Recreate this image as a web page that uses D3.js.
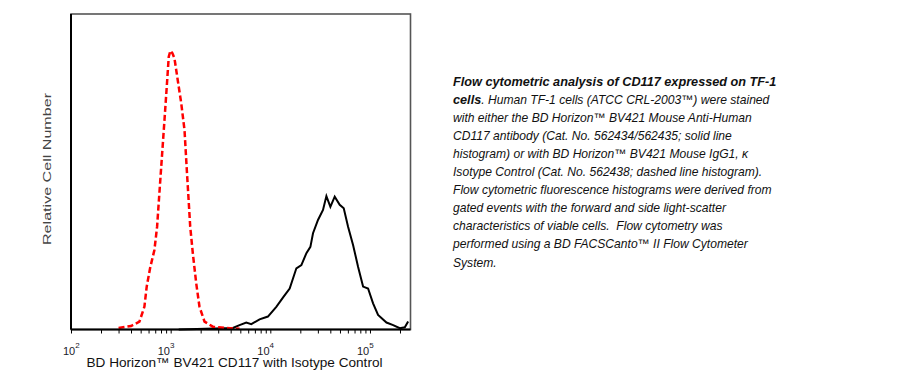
<!DOCTYPE html>
<html>
<head>
<meta charset="utf-8">
<script src="https://cdn.jsdelivr.net/npm/d3@7"></script>
<style>
  body { margin: 0; background: #fff; }
  text { font-family: "Liberation Sans", Arial, sans-serif; }
</style>
</head>
<body>
<script>
// isotype control (red dashed) - fluorescence vs relative count (% of scale)
const isoX = [300, 401, 486, 545, 575, 622, 687, 731, 771, 822, 867, 914, 957, 995, 1040, 1091, 1178, 1276, 1377, 1452, 1571, 1668, 1804, 1946, 2187, 2651, 3610, 4913];
const isoY = [0.5, 1.1, 2.5, 7.2, 13.6, 19.5, 25.2, 32.6, 43.3, 55.9, 66.4, 77, 86.5, 88.4, 87.6, 86, 79, 71.8, 63.2, 50.6, 32.6, 24.2, 14.7, 7.2, 2.5, 0.9, 0.5, 0.2];

// CD117 stained (black solid)
const cdX = [1205, 4207, 4909, 5737, 6441, 7799, 9456, 11481, 13604, 15638, 18250, 20491, 23014, 25236, 26812, 30082, 33779, 36531, 40062, 44263, 49686, 54541, 60276, 67644, 75906, 85259, 95681, 107399, 120516, 146437, 170720, 199163, 223647, 241484];
const cdY = [0, 0.5, 1.4, 2.2, 1.7, 3.2, 4.1, 7.2, 10.4, 13, 19.4, 20.4, 24.2, 26.2, 30.5, 34.7, 37.9, 42.3, 38.9, 42.1, 39.5, 38.4, 32.6, 26.8, 19.9, 13.6, 13, 8.3, 4.6, 2.2, 1.4, 0.4, 0.7, 2.5];

const tickVals = [100, 1000, 10000, 100000];
const tickExp = ["2", "3", "4", "5"];

const xTitle = "BD Horizon™ BV421 CD117 with Isotype Control";
const yTitle = "Relative Cell Number";

const capLines = [
  [["Flow cytometric analysis of CD117 expressed on TF-1", true]],
  [["cells", true], [". Human TF-1 cells (ATCC CRL-2003™) were stained", false]],
  [["with either the BD Horizon™ BV421 Mouse Anti-Human", false]],
  [["CD117 antibody (Cat. No. 562434/562435; solid line", false]],
  [["histogram) or with BD Horizon™ BV421 Mouse IgG1, κ", false]],
  [["Isotype Control (Cat. No. 562438; dashed line histogram).", false]],
  [["Flow cytometric fluorescence histograms were derived from", false]],
  [["gated events with the forward and side light-scatter", false]],
  [["characteristics of viable cells.  Flow cytometry was", false]],
  [["performed using a BD FACSCanto™ II Flow Cytometer", false]],
  [["System.", false]]
];

const W = 910, H = 376;
const pl = 71, pr = 410.5, pt = 14, pb = 329.5;

const svg = d3.select("body").append("svg")
  .attr("width", W).attr("height", H);

const x = d3.scaleLog().domain([100, 255000]).range([pl, pr]);
const y = d3.scaleLinear().domain([0, 100]).range([pb, pt]);

// frame
svg.append("rect")
  .attr("x", pl).attr("y", pt)
  .attr("width", pr - pl).attr("height", pb - pt)
  .attr("fill", "none").attr("stroke", "#555").attr("stroke-width", 1.6);

const line = d3.line().x(d => x(d[0])).y(d => y(d[1]));

svg.append("path")
  .datum(cdX.map((v, i) => [v, cdY[i]]))
  .attr("d", line)
  .attr("fill", "none").attr("stroke", "#000").attr("stroke-width", 2);

svg.append("path")
  .datum(isoX.map((v, i) => [v, isoY[i]]))
  .attr("d", line)
  .attr("fill", "none").attr("stroke", "#f00").attr("stroke-width", 2.5)
  .attr("stroke-dasharray", "6,3");

// left axis line
svg.append("line").attr("x1", pl).attr("x2", pl).attr("y1", pt).attr("y2", pb)
  .attr("stroke", "#000").attr("stroke-width", 2);

const minor = [];
for (let e = 2; e <= 5; e++) for (let m = 1; m <= 9; m++) {
  const v = m * Math.pow(10, e);
  if (v <= 255000) minor.push(v);
}

const xAxis = d3.axisBottom(x).tickValues(minor).tickSize(4).tickFormat("");
const gx = svg.append("g").attr("transform", `translate(0,${pb})`).call(xAxis);
gx.select(".domain").attr("stroke", "#000").attr("stroke-width", 2)
  .attr("d", `M${pl},0H${pr}`);
gx.selectAll(".tick line").attr("stroke", "#000").attr("stroke-width", 1);

const lab = svg.append("g").selectAll("text").data(tickVals).join("text")
  .attr("x", d => x(d) - (d === 100 ? 8 : 13)).attr("y", 355)
  .attr("font-size", 11).attr("fill", "#1a1a2a");
lab.append("tspan").text("10");
lab.append("tspan").attr("dy", -7).attr("font-size", 8).text((d, i) => tickExp[i]);

svg.append("text")
  .attr("x", 234.5).attr("y", 367)
  .attr("text-anchor", "middle").attr("font-size", 12.5).attr("fill", "#111")
  .attr("textLength", 296).attr("lengthAdjust", "spacingAndGlyphs")
  .text(xTitle);

svg.append("text")
  .attr("transform", `translate(51,169) rotate(-90)`)
  .attr("text-anchor", "middle").attr("font-size", 11.5).attr("fill", "#444")
  .attr("textLength", 152).attr("lengthAdjust", "spacingAndGlyphs")
  .text(yTitle);

// caption
const cap = svg.append("text").attr("font-style", "italic").attr("fill", "#111")
  .style("white-space", "pre");
capLines.forEach((ln, i) => {
  ln.forEach((part, j) => {
    const t = cap.append("tspan").text(part[0])
      .attr("font-weight", part[1] ? "bold" : "normal")
      .attr("font-size", part[1] ? 12.7 : 12.1);
    if (j === 0) t.attr("x", 453).attr("y", 85.5 + i * 18.1);
  });
});
</script>
</body>
</html>
